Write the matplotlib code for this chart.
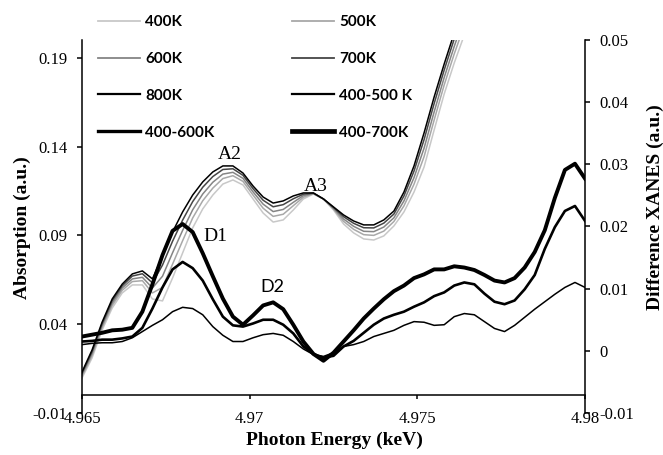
import matplotlib
matplotlib.use("Agg")
import matplotlib.pyplot as plt

# photon energy grid (keV)
energy = [4.9650, 4.9653, 4.9656, 4.9659, 4.9662, 4.9665, 4.9668, 4.9671, 4.9674, 4.9677,
          4.9680, 4.9683, 4.9686, 4.9689, 4.9692, 4.9695, 4.9698, 4.9701, 4.9704, 4.9707,
          4.9710, 4.9713, 4.9716, 4.9719, 4.9722, 4.9725, 4.9728, 4.9731, 4.9734, 4.9737,
          4.9740, 4.9743, 4.9746, 4.9749, 4.9752, 4.9755, 4.9758, 4.9761, 4.9764, 4.9767,
          4.9770, 4.9773, 4.9776, 4.9779, 4.9782, 4.9785, 4.9788, 4.9791, 4.9794, 4.9797,
          4.9800]

# XANES absorption (left axis), first 39 energies
abs_400k = [0.0097, 0.0210, 0.0367, 0.0491, 0.0576, 0.0621, 0.0621, 0.0542, 0.0531, 0.0660,
            0.0801, 0.0942, 0.1049, 0.1127, 0.1189, 0.1212, 0.1184, 0.1105, 0.1026, 0.0975,
            0.0987, 0.1043, 0.1105, 0.1133, 0.1105, 0.1043, 0.0964, 0.0914, 0.0880, 0.0874,
            0.0897, 0.0953, 0.1032, 0.1144, 0.1285, 0.1493, 0.1696, 0.1871, 0.2028]
abs_500k = [0.0107, 0.0224, 0.0381, 0.0506, 0.0591, 0.0640, 0.0645, 0.0576, 0.0607, 0.0738,
            0.0870, 0.0998, 0.1095, 0.1166, 0.1220, 0.1236, 0.1204, 0.1127, 0.1053, 0.1007,
            0.1019, 0.1067, 0.1115, 0.1135, 0.1105, 0.1048, 0.0979, 0.0934, 0.0904, 0.0900,
            0.0924, 0.0978, 0.1066, 0.1188, 0.1343, 0.1549, 0.1747, 0.1922, 0.2082]
abs_600k = [0.0116, 0.0235, 0.0392, 0.0519, 0.0604, 0.0655, 0.0664, 0.0604, 0.0670, 0.0802,
            0.0928, 0.1044, 0.1133, 0.1199, 0.1245, 0.1255, 0.1221, 0.1145, 0.1076, 0.1034,
            0.1046, 0.1086, 0.1124, 0.1136, 0.1105, 0.1052, 0.0992, 0.0951, 0.0923, 0.0921,
            0.0947, 0.0999, 0.1094, 0.1225, 0.1391, 0.1595, 0.1789, 0.1964, 0.2128]
abs_700k = [0.0124, 0.0246, 0.0403, 0.0532, 0.0616, 0.0671, 0.0684, 0.0632, 0.0733, 0.0867,
            0.0986, 0.1090, 0.1171, 0.1231, 0.1271, 0.1275, 0.1238, 0.1163, 0.1098, 0.1061,
            0.1073, 0.1106, 0.1132, 0.1138, 0.1105, 0.1057, 0.1005, 0.0968, 0.0943, 0.0942,
            0.0969, 0.1020, 0.1122, 0.1262, 0.1439, 0.1642, 0.1831, 0.2006, 0.2173]
abs_800k = [0.0131, 0.0255, 0.0412, 0.0542, 0.0626, 0.0683, 0.0700, 0.0655, 0.0784, 0.0919,
            0.1032, 0.1127, 0.1201, 0.1257, 0.1291, 0.1291, 0.1251, 0.1178, 0.1116, 0.1082,
            0.1094, 0.1122, 0.1139, 0.1139, 0.1105, 0.1060, 0.1015, 0.0981, 0.0959, 0.0959,
            0.0987, 0.1037, 0.1144, 0.1291, 0.1477, 0.1679, 0.1865, 0.2040, 0.2209]

# difference spectra (right axis)
diff_400_500k = [0.0010, 0.0012, 0.0013, 0.0013, 0.0015, 0.0021, 0.0031, 0.0041, 0.0050, 0.0063,
                 0.0070, 0.0068, 0.0058, 0.0039, 0.0025, 0.0015, 0.0015, 0.0021, 0.0026, 0.0028,
                 0.0025, 0.0015, 0.0003, -0.0006, -0.0009, -0.0003, 0.0007, 0.0010, 0.0015, 0.0023,
                 0.0028, 0.0033, 0.0041, 0.0047, 0.0046, 0.0041, 0.0042, 0.0055, 0.0060, 0.0058,
                 0.0047, 0.0036, 0.0031, 0.0041, 0.0054, 0.0067, 0.0079, 0.0091, 0.0102, 0.0110,
                 0.0102]
diff_400_600k = [0.0015, 0.0016, 0.0018, 0.0018, 0.0020, 0.0023, 0.0037, 0.0068, 0.0102, 0.0131,
                 0.0143, 0.0133, 0.0113, 0.0083, 0.0055, 0.0041, 0.0039, 0.0044, 0.0050, 0.0050,
                 0.0042, 0.0028, 0.0007, -0.0005, -0.0011, -0.0008, 0.0007, 0.0016, 0.0029, 0.0042,
                 0.0052, 0.0058, 0.0063, 0.0071, 0.0078, 0.0088, 0.0094, 0.0105, 0.0110, 0.0107,
                 0.0092, 0.0079, 0.0075, 0.0081, 0.0099, 0.0122, 0.0164, 0.0199, 0.0225, 0.0233,
                 0.0209]
diff_400_700k = [0.0023, 0.0026, 0.0029, 0.0033, 0.0034, 0.0037, 0.0063, 0.0107, 0.0154, 0.0193,
                 0.0204, 0.0191, 0.0157, 0.0120, 0.0084, 0.0055, 0.0042, 0.0057, 0.0073, 0.0078,
                 0.0067, 0.0042, 0.0015, -0.0005, -0.0016, -0.0003, 0.0015, 0.0033, 0.0052, 0.0068,
                 0.0083, 0.0096, 0.0105, 0.0117, 0.0123, 0.0131, 0.0131, 0.0136, 0.0134, 0.0130,
                 0.0122, 0.0113, 0.0110, 0.0117, 0.0134, 0.0159, 0.0194, 0.0246, 0.0291, 0.0301,
                 0.0277]

abs_labels = ["400K", "500K", "600K", "700K", "800K"]
diff_labels = ["400-500 K", "400-600K", "400-700K"]
x_ticks = [4.965, 4.97, 4.975, 4.98]
x_tick_labels = ["4.965", "4.97", "4.975", "4.98"]
left_ticks = [-0.01, 0.04, 0.09, 0.14, 0.19]
right_ticks = [-0.01, 0, 0.01, 0.02, 0.03, 0.04, 0.05]
right_tick_labels = ["-0.01", "0", "0.01", "0.02", "0.03", "0.04", "0.05"]

SERIF = "Liberation Serif"
SANS = "Lato"

fig = plt.figure(figsize=(6.63, 4.55), dpi=100)
ax = fig.add_axes([0.1237, 0.0923, 0.7587, 0.8198])
ax2 = ax.twinx()

handles = {}
abs_colours = ["#c8c8c8", "#a8a8a8", "#858585", "#454545", "#000000"]
for series, colour, label in zip((abs_400k, abs_500k, abs_600k, abs_700k, abs_800k), abs_colours, abs_labels):
    handles[label], = ax.plot(energy[:len(series)], series, color=colour, lw=1.1, label=label,
                              solid_joinstyle="round")
for series, width, label in zip((diff_400_500k, diff_400_600k, diff_400_700k), (1.1, 1.9, 2.8), diff_labels):
    handles[label], = ax2.plot(energy, series, color="black", lw=width, label=label, solid_joinstyle="round")

ax.set_xlim(4.965, 4.98); ax.set_ylim(-0.01, 0.2); ax2.set_ylim(-0.01, 0.05)
ax.set_xticks(x_ticks); ax.set_xticklabels(x_tick_labels)
ax.set_yticks(left_ticks); ax.set_yticklabels([f"{t:g}" for t in left_ticks])
ax2.set_yticks(right_ticks); ax2.set_yticklabels(right_tick_labels)

for a in (ax, ax2):
    a.spines["top"].set_visible(False)
    for s in a.spines.values():
        s.set_linewidth(1.1)
ax.spines["right"].set_visible(False)
ax2.spines["left"].set_visible(False); ax2.spines["bottom"].set_visible(False)
ax.spines["bottom"].set_position(("data", 0))
ax.tick_params(axis="y", direction="out", length=3.6, width=1.1, pad=7, labelsize=12)
ax.tick_params(axis="x", direction="out", length=3, width=1.1, pad=8, labelsize=12)
ax2.tick_params(axis="y", direction="out", length=3.6, width=1.1, pad=7, labelsize=12)
for label in ax.get_xticklabels() + ax.get_yticklabels() + ax2.get_yticklabels():
    label.set_fontfamily(SERIF)

bold = dict(family=SERIF, fontweight="bold", fontsize=14, ha="center", va="center")
fig.text(334 / 663, 1 - 440 / 455, "Photon Energy (keV)", **bold)
fig.text(22 / 663, 1 - 228 / 455, "Absorption (a.u.)", rotation=90, **bold)
fig.text(655 / 663, 1 - 207 / 455, "Difference XANES (a.u.)", rotation=90, **bold)

# peak labels
ax.text(4.96941, 0.1353, "A2", family=SERIF, fontsize=14, ha="center", va="center")
ax.text(4.97198, 0.1178, "A3", family=SERIF, fontsize=14, ha="center", va="center")
ax.text(4.96897, 0.0891, "D1", family=SERIF, fontsize=14, ha="center", va="center")
ax.text(4.97067, 0.0609, "D2", family=SANS, fontsize=13, ha="center", va="center")

order = ["400K", "600K", "800K", "400-600K", "500K", "700K", "400-500 K", "400-700K"]
leg = ax2.legend([handles[k] for k in order], order, ncol=2, frameon=False,
                 loc="upper left", bbox_to_anchor=(98 / 663, 1 - 15 / 455), bbox_transform=fig.transFigure,
                 borderpad=0, borderaxespad=0, handlelength=2.75, handletextpad=0.35,
                 columnspacing=5.05, labelspacing=1.5, prop=dict(family=SANS, weight="bold", size=11))
# legend line widths as in the key
for line, width in zip(leg.get_lines(), (1.3, 1.3, 1.6, 2.4, 1.3, 1.3, 1.6, 3.4)):
    line.set_linewidth(width)

fig.savefig("out.png", dpi=100)
